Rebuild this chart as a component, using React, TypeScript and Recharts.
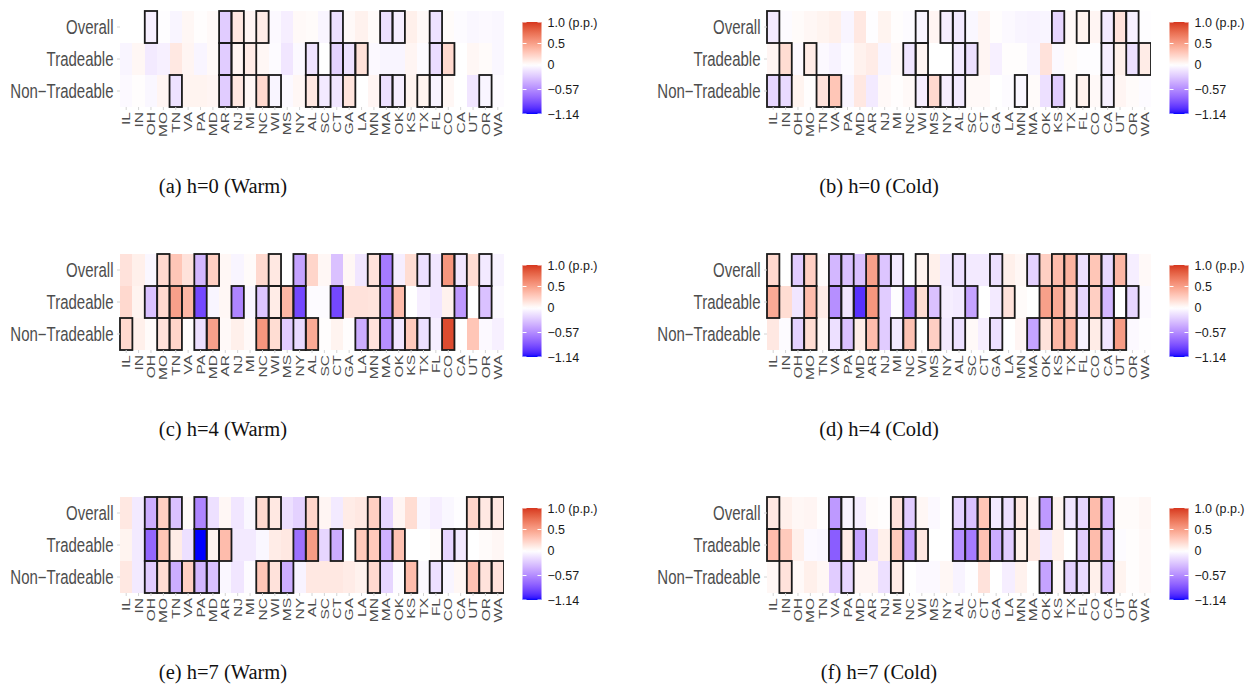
import React from "react";
import { Bar, BarChart, Cell, XAxis, YAxis } from "recharts";

const STATES = ["IL", "IN", "OH", "MO", "TN", "VA", "PA", "MD", "AR", "NJ", "MI", "NC", "WI", "MS", "NY", "AL", "SC", "CT", "GA", "LA", "MN", "MA", "OK", "KS", "TX", "FL", "CO", "CA", "UT", "OR", "WA"];
// bottom to top
const ROW_LABELS = ["Non\u2212Tradeable", "Tradeable", "Overall"];
const LEGEND_VALUES = [1.0, 0.5, 0, -0.57, -1.14];
const LEGEND_LABELS = ["1.0 (p.p.)", "0.5", "0", "\u22120.57", "\u22121.14"];

// (a) h=0 warm
const warm0Overall = [0, 0, -0.07, -0.01, -0.05, 0.04, 0.01, 0.03, -0.25, 0.12, 0.05, 0.1, -0.03, -0.08, 0.03, 0.02, -0.05, -0.15, 0.03, 0.07, 0.02, -0.15, -0.08, 0.08, 0.03, -0.14, 0.02, -0.02, -0.04, -0.03, -0.04];
const warm0Trade = [-0.05, 0.04, -0.1, -0.07, 0.12, 0.05, -0.05, 0.03, -0.25, 0.05, 0.1, 0.04, -0.02, -0.12, -0.03, -0.13, 0, -0.22, -0.14, 0.16, -0.03, -0.05, -0.05, 0.05, -0.02, -0.17, 0.2, 0, 0.04, 0.02, -0.04];
const warm0NonTrade = [-0.03, 0.01, -0.04, 0.05, -0.14, 0.06, 0.06, 0.05, -0.25, 0.12, 0.04, 0.2, -0.05, -0.03, 0.04, 0.12, -0.1, -0.12, 0.14, 0, 0.05, -0.15, -0.08, 0.06, 0.06, -0.06, 0.04, 0, -0.12, -0.05, -0.02];
const warm0OverallSig = ["OH", "AR", "NJ", "NC", "CT", "MA", "OK", "FL"];
const warm0TradeSig = ["AR", "NJ", "MI", "AL", "CT", "GA", "LA", "FL", "CO"];
const warm0NonTradeSig = ["TN", "AR", "NJ", "NC", "WI", "AL", "SC", "GA", "MA", "OK", "TX", "FL", "OR"];

// (b) h=0 cold
const cold0Overall = [-0.1, -0.02, 0.02, 0.04, 0.06, 0.08, -0.05, 0.12, -0.01, 0.06, 0.01, -0.02, -0.05, 0.05, -0.08, -0.1, -0.04, 0.05, 0.01, -0.03, -0.05, -0.06, -0.05, -0.2, 0.03, 0.06, 0.05, -0.1, 0.15, -0.07, -0.01];
const cold0Trade = [0.05, 0.18, -0.03, 0.1, -0.03, -0.06, -0.02, 0.07, 0.1, -0.05, 0.03, -0.12, 0.05, 0, 0, -0.1, -0.15, 0.05, -0.07, 0.01, 0.01, -0.05, 0.15, -0.03, 0.02, -0.01, -0.01, -0.08, 0.08, -0.15, 0.1];
const cold0NonTrade = [-0.2, -0.18, 0.06, 0.01, 0.15, 0.3, -0.05, 0.12, -0.1, 0.03, 0.01, 0.03, -0.08, 0.2, -0.08, -0.1, 0.03, 0.03, 0, -0.02, -0.04, 0.02, -0.15, -0.25, 0.02, 0.07, 0.03, -0.07, 0.05, 0.02, -0.02];
const cold0OverallSig = ["IL", "WI", "NY", "AL", "KS", "FL", "CA", "UT", "OR"];
const cold0TradeSig = ["IN", "MO", "NC", "WI", "AL", "SC", "CA", "OR", "WA"];
const cold0NonTradeSig = ["IL", "IN", "TN", "VA", "WI", "MS", "NY", "AL", "MN", "KS", "FL", "CA"];

// (c) h=4 warm
const warm4Overall = [0.15, 0.08, -0.04, 0.2, 0.3, 0.15, -0.35, 0.25, 0.04, -0.05, 0.02, 0.2, 0.12, 0, -0.45, 0.22, 0.04, -0.3, 0.04, -0.12, 0.15, -0.65, -0.08, 0.18, -0.15, -0.12, 0.55, -0.12, 0.18, -0.1, -0.06];
const warm4Trade = [0.2, 0.06, -0.3, 0.2, 0.5, 0.38, -0.9, -0.05, 0.04, -0.6, -0.04, -0.28, 0.1, 0.38, -0.9, -0.02, -0.02, -0.9, 0.15, 0.15, 0.14, -0.6, 0.35, 0, -0.08, -0.12, 0.07, -0.5, 0, -0.3, -0.03];
const warm4NonTrade = [0.2, 0.08, 0.02, 0.15, 0.22, 0.01, -0.15, 0.5, 0.03, 0.08, 0.03, 0.55, 0.18, -0.25, -0.18, 0.45, 0.01, 0.06, 0.01, -0.4, 0.15, -0.55, -0.12, 0.28, -0.15, -0.08, 0.92, 0, 0.3, -0.03, -0.07];
const warm4OverallSig = ["MO", "PA", "MD", "WI", "NY", "MN", "MA", "TX", "CO", "CA", "OR"];
const warm4TradeSig = ["OH", "MO", "TN", "VA", "PA", "NJ", "NC", "WI", "MS", "NY", "CT", "MA", "OK", "CA", "OR"];
const warm4NonTradeSig = ["IL", "MO", "TN", "PA", "MD", "NC", "WI", "NY", "AL", "LA", "MN", "MA", "OK", "KS", "TX", "CO"];

// (d) h=4 cold
const cold4Overall = [0.2, 0, -0.25, 0.25, 0.02, -0.35, -0.3, -0.3, 0.5, -0.28, -0.1, 0, 0.06, 0.08, -0.1, -0.15, -0.1, -0.1, -0.15, 0.08, 0.04, -0.22, 0.25, 0.35, 0.4, -0.15, 0.3, -0.18, 0.38, -0.08, 0.03];
const cold4Trade = [0.45, 0.18, -0.12, 0.35, 0.1, -0.55, -0.12, -1.0, 0.55, -0.25, -0.01, -0.6, 0.18, -0.3, -0.08, -0.1, -0.45, 0, -0.1, 0.15, 0.02, 0, 0.5, 0.45, 0.25, -0.2, 0.25, -0.35, 0, -0.2, -0.03];
const cold4NonTrade = [0.12, -0.02, -0.22, 0.18, 0.04, -0.15, -0.3, 0.1, 0.35, -0.25, -0.1, 0.32, 0, 0.25, -0.1, -0.15, 0.03, -0.08, -0.15, 0, 0.05, -0.45, 0.15, 0.38, 0.4, -0.06, 0.1, -0.12, 0.52, -0.03, -0.01];
const cold4OverallSig = ["IL", "OH", "MO", "VA", "PA", "AR", "NJ", "MI", "WI", "AL", "GA", "MA", "KS", "TX", "FL", "CO", "CA", "UT"];
const cold4TradeSig = ["IL", "MO", "VA", "PA", "MD", "AR", "NC", "WI", "MS", "SC", "LA", "OK", "KS", "TX", "FL", "CO", "CA", "UT", "OR"];
const cold4NonTradeSig = ["OH", "MO", "VA", "PA", "AR", "MI", "NC", "MS", "AL", "GA", "MA", "KS", "TX", "FL", "CA", "UT"];

// (e) h=7 warm
const warm7Overall = [0.12, -0.1, -0.4, 0.25, -0.3, 0.02, -0.6, -0.15, 0.04, -0.12, -0.04, 0.2, 0.12, -0.15, -0.22, 0.22, 0.05, -0.1, 0.1, 0.12, 0.25, -0.2, 0.05, 0.18, -0.04, -0.08, -0.04, -0.01, 0.22, 0.12, 0.12];
const warm7Trade = [0.06, -0.1, -0.75, 0.3, 0.1, -0.15, -1.14, 0.06, 0.35, -0.1, -0.1, -0.04, 0.1, 0.12, -0.7, 0.52, -0.2, -0.4, 0, 0.28, 0.28, -0.38, 0.32, 0, 0, 0.02, -0.2, -0.1, 0, 0.02, 0.04];
const warm7NonTrade = [0.12, -0.1, -0.25, 0.18, -0.4, 0.25, -0.35, -0.3, -0.04, -0.12, -0.02, 0.3, 0.15, -0.4, -0.06, 0.12, 0.12, 0.12, 0.1, 0.07, 0.2, -0.2, -0.02, 0.35, -0.03, -0.15, -0.05, 0.04, 0.32, 0.15, 0.15];
const warm7OverallSig = ["OH", "MO", "TN", "PA", "NC", "WI", "AL", "MN", "UT", "OR", "WA"];
const warm7TradeSig = ["OH", "MO", "PA", "MD", "AR", "NY", "AL", "CT", "LA", "MN", "MA", "OK", "CO", "CA"];
const warm7NonTradeSig = ["OH", "MO", "TN", "VA", "PA", "MD", "NC", "WI", "MS", "MN", "KS", "FL", "UT", "OR", "WA"];

// (f) h=7 cold
const cold7Overall = [0.12, 0.08, 0.04, 0.05, 0.01, -0.5, -0.06, -0.08, 0.02, 0.01, 0.15, -0.25, 0.04, -0.03, 0, -0.22, -0.3, 0.3, -0.1, -0.15, 0.12, 0.04, -0.5, 0.06, -0.12, -0.2, 0.35, -0.35, 0.02, 0.02, 0.04];
const cold7Trade = [0.35, 0.28, 0.08, -0.03, -0.04, -0.8, 0.1, -0.45, -0.15, 0.08, 0.28, -0.5, 0.12, 0, 0, -0.55, -0.65, 0.32, -0.4, -0.25, 0.08, 0.12, -0.1, 0.08, 0, -0.25, 0.35, -0.3, -0.02, 0.01, 0.03];
const cold7NonTrade = [0.04, 0.15, 0.03, 0.08, 0.04, -0.25, -0.2, 0.05, 0.05, -0.15, 0.1, 0, -0.03, -0.03, 0.04, -0.06, -0.01, 0.15, 0, -0.08, 0.07, 0, -0.45, 0.03, -0.22, -0.18, 0.08, -0.3, 0.06, 0.01, 0.03];
const cold7OverallSig = ["IL", "VA", "PA", "MI", "NC", "AL", "SC", "CT", "GA", "LA", "MN", "OK", "TX", "FL", "CO", "CA"];
const cold7TradeSig = ["IL", "VA", "PA", "MD", "MI", "NC", "WI", "AL", "SC", "CT", "GA", "LA", "MN", "FL", "CO", "CA"];
const cold7NonTradeSig = ["IN", "PA", "MI", "OK", "TX", "FL", "CA"];

const PANELS = [
  { caption: "(a) h=0 (Warm)", ov: warm0Overall, tr: warm0Trade, nt: warm0NonTrade, ovSig: warm0OverallSig, trSig: warm0TradeSig, ntSig: warm0NonTradeSig },
  { caption: "(b) h=0 (Cold)", ov: cold0Overall, tr: cold0Trade, nt: cold0NonTrade, ovSig: cold0OverallSig, trSig: cold0TradeSig, ntSig: cold0NonTradeSig },
  { caption: "(c) h=4 (Warm)", ov: warm4Overall, tr: warm4Trade, nt: warm4NonTrade, ovSig: warm4OverallSig, trSig: warm4TradeSig, ntSig: warm4NonTradeSig },
  { caption: "(d) h=4 (Cold)", ov: cold4Overall, tr: cold4Trade, nt: cold4NonTrade, ovSig: cold4OverallSig, trSig: cold4TradeSig, ntSig: cold4NonTradeSig },
  { caption: "(e) h=7 (Warm)", ov: warm7Overall, tr: warm7Trade, nt: warm7NonTrade, ovSig: warm7OverallSig, trSig: warm7TradeSig, ntSig: warm7NonTradeSig },
  { caption: "(f) h=7 (Cold)", ov: cold7Overall, tr: cold7Trade, nt: cold7NonTrade, ovSig: cold7OverallSig, trSig: cold7TradeSig, ntSig: cold7NonTradeSig },
];

// layout
const Y_AXIS_W = 120;
const PLOT_W = 384;
const BAND = PLOT_W / STATES.length;
const TOP = 11;
const PLOT_H = 96;
const X_AXIS_H = 40;
const AXIS_GREY = "#4d4d4d";
const SANS = "'Liberation Sans', Arial, Helvetica, sans-serif";

// diverging fill, interpolated in Lab like ggplot's gradient2
const LOW = [0, 0, 255];
const HIGH = [214, 54, 30];
const MIN_V = -1.14;
const MAX_V = 1.0;

function toLab([r, g, b]: number[]) {
  const lin = (c: number) => { c /= 255; return c <= 0.04045 ? c / 12.92 : Math.pow((c + 0.055) / 1.055, 2.4); };
  const R = lin(r), G = lin(g), B = lin(b);
  const x = (0.4124 * R + 0.3576 * G + 0.1805 * B) / 0.95047;
  const y = 0.2126 * R + 0.7152 * G + 0.0722 * B;
  const z = (0.0193 * R + 0.1192 * G + 0.9505 * B) / 1.08883;
  const f = (t: number) => (t > 0.008856 ? Math.cbrt(t) : 7.787 * t + 16 / 116);
  return [116 * f(y) - 16, 500 * (f(x) - f(y)), 200 * (f(y) - f(z))];
}

function fromLab([L, a, bb]: number[]) {
  const fy = (L + 16) / 116, fx = fy + a / 500, fz = fy - bb / 200;
  const inv = (t: number) => (t * t * t > 0.008856 ? t * t * t : (t - 16 / 116) / 7.787);
  const x = inv(fx) * 0.95047, y = inv(fy), z = inv(fz) * 1.08883;
  const R = 3.2406 * x - 1.5372 * y - 0.4986 * z;
  const G = -0.9689 * x + 1.8758 * y + 0.0415 * z;
  const B = 0.0557 * x - 0.204 * y + 1.057 * z;
  const g = (c: number) => {
    c = c <= 0.0031308 ? 12.92 * c : 1.055 * Math.pow(Math.max(c, 0), 1 / 2.4) - 0.055;
    return Math.round(Math.min(1, Math.max(0, c)) * 255);
  };
  return `rgb(${g(R)},${g(G)},${g(B)})`;
}

const WHITE_LAB = toLab([255, 255, 255]);
const LOW_LAB = toLab(LOW);
const HIGH_LAB = toLab(HIGH);

function fillFor(v: number) {
  const t = v >= 0 ? Math.min(v / MAX_V, 1) : Math.min(v / MIN_V, 1);
  const end = v >= 0 ? HIGH_LAB : LOW_LAB;
  return fromLab(WHITE_LAB.map((w, i) => w + (end[i] - w) * t));
}

function XTick({ x, y, payload }: any) {
  return (
    <g transform={`translate(${x},${y})`}>
      <text transform="scale(1,1.35) rotate(-90)" textAnchor="end" dy="0.36em" fontSize={11.5} fill={AXIS_GREY} fontFamily={SANS}>
        {payload.value}
      </text>
    </g>
  );
}

function YTick({ x, y, payload }: any) {
  return (
    <g transform={`translate(${x},${y}) scale(1,1.3)`}>
      <text textAnchor="end" dy="0.36em" fontSize={15} fill={AXIS_GREY} fontFamily={SANS}>
        {ROW_LABELS[Math.floor(payload.value)]}
      </text>
    </g>
  );
}

const FillRect = (p: any) => <rect x={p.x} y={p.y} width={p.width} height={p.height} fill={p.fill} shapeRendering="crispEdges" />;

function Heatmap({ ov, tr, nt, ovSig, trSig, ntSig }: any) {
  const data = STATES.map((state) => ({ state, nt: 1, tr: 1, ov: 1 }));
  const rows = [
    { key: "nt", vals: nt, sig: ntSig },
    { key: "tr", vals: tr, sig: trSig },
    { key: "ov", vals: ov, sig: ovSig },
  ];
  return (
    <BarChart width={Y_AXIS_W + PLOT_W} height={TOP + PLOT_H + X_AXIS_H} data={data} margin={{ top: TOP, right: 0, bottom: 0, left: 0 }}
      barSize={BAND - 0.01} barGap={-(BAND - 0.01)} barCategoryGap={0}>
      <XAxis dataKey="state" type="category" interval={0} height={X_AXIS_H} axisLine={false} tickSize={3} tickMargin={2} tickLine={{ stroke: "#d4d4d4" }} tick={<XTick />} />
      <YAxis type="number" domain={[0, 3]} ticks={[0.5, 1.5, 2.5]} width={Y_AXIS_W} axisLine={false} tickSize={3} tickMargin={3.5} tickLine={{ stroke: "#d4d4d4" }} tick={<YTick />} />
      {rows.map((r) => (
        <Bar key={"fill-" + r.key} dataKey={r.key} stackId="fill" isAnimationActive={false} shape={FillRect}>
          {r.vals.map((v: number, i: number) => <Cell key={i} fill={fillFor(v)} />)}
        </Bar>
      ))}
      {rows.map((r) => (
        <Bar key={"sig-" + r.key} dataKey={r.key} stackId="sig" isAnimationActive={false}
          shape={(p: any) => r.sig.includes(p.payload.state)
            ? <rect x={p.x} y={p.y} width={p.width} height={p.height} fill="none" stroke="#1a1a1a" strokeWidth={1.8} />
            : <g />} />
      ))}
    </BarChart>
  );
}

// colour bar legend
const BAR_X = 522.5, BAR_W = 19, BAR_TOP = 22, BAR_BOTTOM = 114;
const barY = (v: number) => BAR_TOP + ((MAX_V - v) / (MAX_V - MIN_V)) * (BAR_BOTTOM - BAR_TOP);

function ColorBar({ id }: { id: string }) {
  const stops = Array.from({ length: 41 }, (_, i) => MAX_V - (i / 40) * (MAX_V - MIN_V));
  return (
    <svg width={110} height={130} style={{ position: "absolute", left: 510, top: 0 }} viewBox="510 0 110 130">
      <defs>
        <linearGradient id={id} x1="0" y1="0" x2="0" y2="1">
          {stops.map((v, i) => <stop key={i} offset={i / 40} stopColor={fillFor(v)} />)}
        </linearGradient>
      </defs>
      <rect x={BAR_X} y={BAR_TOP} width={BAR_W} height={BAR_BOTTOM - BAR_TOP} fill={`url(#${id})`} />
      {LEGEND_VALUES.map((v, i) => (
        <g key={i}>
          <line x1={BAR_X} x2={BAR_X + 4} y1={barY(v)} y2={barY(v)} stroke="#fff" strokeWidth={1} />
          <line x1={BAR_X + BAR_W - 4} x2={BAR_X + BAR_W} y1={barY(v)} y2={barY(v)} stroke="#fff" strokeWidth={1} />
          <text x={547.5} y={barY(v)} dy="0.36em" fontSize={12.5} fill="#1a1a1a" fontFamily={SANS}>{LEGEND_LABELS[i]}</text>
        </g>
      ))}
    </svg>
  );
}

function Panel({ panel, index }: any) {
  const col = index % 2;
  const row = Math.floor(index / 2);
  return (
    <div style={{ position: "absolute", left: col * 647, top: row * 243, width: 640, height: 243 }}>
      <div style={{ position: "absolute", left: 0, top: 0 }}>
        <Heatmap {...panel} />
      </div>
      <ColorBar id={"grad" + index} />
      <div style={{ position: "absolute", left: 0, width: col ? 464 : 446, top: 173, textAlign: "center", fontFamily: "'Liberation Serif', 'DejaVu Serif', serif", fontSize: 20.5, color: "#111", lineHeight: "26px" }}>
        {panel.caption}
      </div>
    </div>
  );
}

export default function App() {
  return (
    <div style={{ position: "absolute", left: 0, top: 0, width: 1246, height: 685, background: "#fff", overflow: "hidden" }}>
      {PANELS.map((p, i) => <Panel key={i} panel={p} index={i} />)}
    </div>
  );
}
